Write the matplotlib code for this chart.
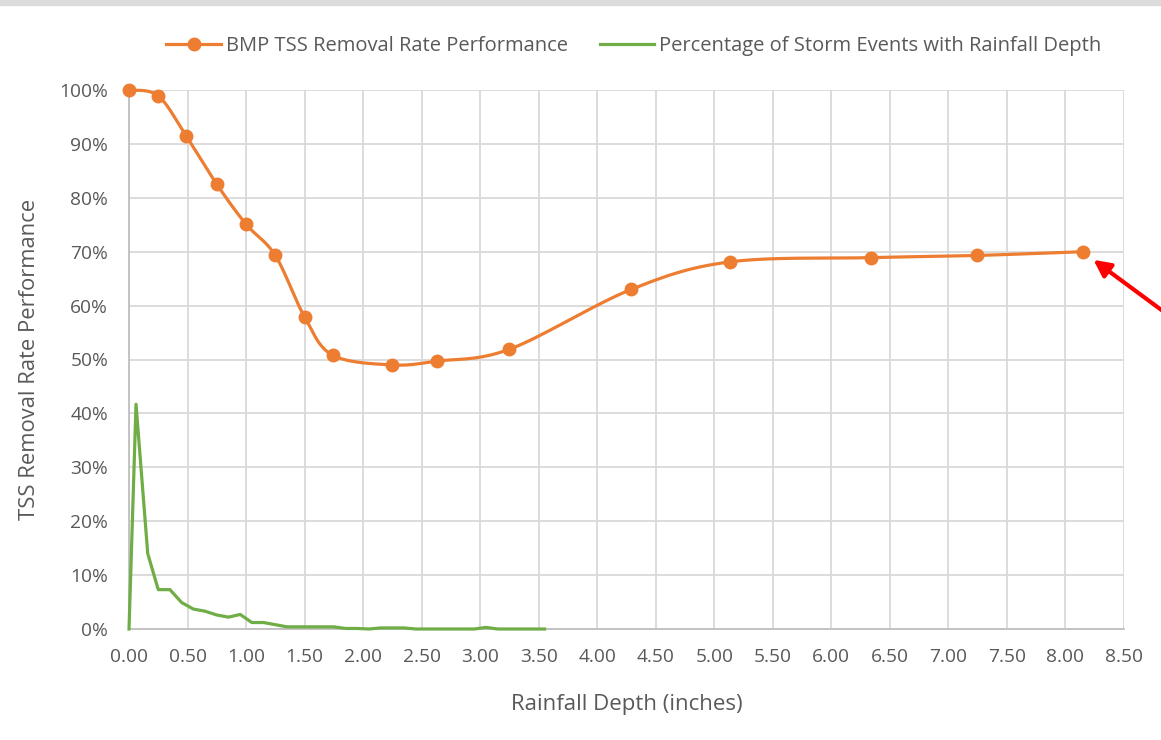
import numpy as np
import matplotlib
matplotlib.use("Agg")
import matplotlib.pyplot as plt
from matplotlib.lines import Line2D
from matplotlib.patches import Rectangle

# BMP TSS removal rate (fraction) vs rainfall depth (inches)
bmp_depth = [0.0, 0.25, 0.49, 0.75, 1.0, 1.25, 1.5, 1.74, 2.25, 2.63, 3.25, 4.29, 5.13, 6.34, 7.24, 8.15]
bmp_rate = [1.000, 0.989, 0.914, 0.825, 0.751, 0.693, 0.579, 0.508, 0.490, 0.497, 0.519, 0.630, 0.681, 0.689, 0.693, 0.700]

# percentage of storm events by rainfall depth
storm_depth = [0.0, 0.06, 0.16, 0.25, 0.35, 0.45, 0.55, 0.65, 0.75, 0.85, 0.95, 1.05, 1.15,
               1.25, 1.35, 1.45, 1.55, 1.65, 1.75, 1.85, 1.95, 2.05, 2.15, 2.25, 2.35, 2.45,
               2.55, 2.65, 2.75, 2.85, 2.95, 3.05, 3.15, 3.25, 3.35, 3.45, 3.55]
storm_pct = [0.0, 0.417, 0.140, 0.073, 0.073, 0.049, 0.037, 0.033, 0.026, 0.022, 0.027, 0.012, 0.012,
             0.008, 0.004, 0.004, 0.004, 0.004, 0.004, 0.001, 0.001, 0.0, 0.002, 0.002, 0.002, 0.0,
             0.0, 0.0, 0.0, 0.0, 0.0, 0.003, 0.0, 0.0, 0.0, 0.0, 0.0]

x_ticks = np.arange(0, 8.51, 0.5)
y_ticks = np.arange(0, 1.01, 0.1)

ORANGE = "#ED7D31"
GREEN = "#70AD47"
GREY = "#595959"


def smooth(xs, ys, n=30):
    # Excel-style smoothed line (Catmull-Rom through the points)
    p = np.column_stack([xs, ys])
    p = np.vstack([p[0], p, p[-1]])
    out = []
    t = np.linspace(0, 1, n)[:, None]
    for i in range(1, len(p) - 2):
        p0, p1, p2, p3 = p[i - 1], p[i], p[i + 1], p[i + 2]
        b1 = p1 + (p2 - p0) / 6
        b2 = p2 - (p3 - p1) / 6
        seg = (1 - t) ** 3 * p1 + 3 * (1 - t) ** 2 * t * b1 + 3 * (1 - t) * t ** 2 * b2 + t ** 3 * p2
        out.append(seg)
    out = np.vstack(out)
    return out[:, 0], out[:, 1]


plt.rcParams['font.family'] = ['Open Sans', 'DejaVu Sans']

fig = plt.figure(figsize=(11.61, 7.40), dpi=100)
ax = fig.add_axes([129 / 1161, 1 - 629 / 740, 995 / 1161, 539 / 740])

# screenshot strip at top
fig.patches.append(Rectangle((0, 1 - 5 / 740), 1, 5 / 740, transform=fig.transFigure,
                             color="#dcdcdc", zorder=0))

sx, sy = smooth(bmp_depth, bmp_rate)
ax.plot(sx, sy, color=ORANGE, lw=2.3, zorder=3, solid_capstyle='round', clip_on=False)
ax.plot(bmp_depth, bmp_rate, 'o', color=ORANGE, ms=9, zorder=4, clip_on=False)
ax.plot(storm_depth, storm_pct, color=GREEN, lw=2.3, zorder=3, clip_on=False)

ax.set_xlim(0, 8.5)
ax.set_ylim(0, 1.0)
ax.set_xticks(x_ticks)
ax.set_xticklabels([f"{v:.2f}" for v in x_ticks])
ax.set_yticks(y_ticks)
ax.set_yticklabels([f"{int(round(v * 100))}%" for v in y_ticks])
ax.grid(True, color="#d9d9d9", lw=1.3)
ax.set_axisbelow(True)
ax.tick_params(length=0, labelsize=13.8, colors=GREY)
ax.tick_params(axis='x', pad=14)
ax.tick_params(axis='y', pad=15)
for s in ['top', 'right']:
    ax.spines[s].set_visible(False)
for s in ['left', 'bottom']:
    ax.spines[s].set_color("#bfbfbf")
    ax.spines[s].set_linewidth(1.3)

ax.set_xlabel("Rainfall Depth (inches)", fontsize=16, color=GREY, labelpad=20)
ax.set_ylabel("TSS Removal Rate Performance", fontsize=15.8, color=GREY, labelpad=14)

handles = [Line2D([], [], color=ORANGE, lw=2.3, marker='o', ms=9),
           Line2D([], [], color=GREEN, lw=2.3)]
fig.legend(handles, ["BMP TSS Removal Rate Performance", "Percentage of Storm Events with Rainfall Depth"],
           loc='center', bbox_to_anchor=(634 / 1161, 1 - 46 / 740), ncol=2, frameon=False,
           fontsize=14.5, labelcolor=GREY, handlelength=2.7, columnspacing=1.6, handletextpad=0.25)

# red arrow pointing at the last point
ax.annotate("", xy=(8.22, 0.688), xytext=(1175, 740 - 320), textcoords='figure pixels',
            annotation_clip=False,
            arrowprops=dict(arrowstyle='-|>,head_length=1.0,head_width=0.5', color='#ff0000', lw=3))

fig.savefig("out.png", dpi=100)
